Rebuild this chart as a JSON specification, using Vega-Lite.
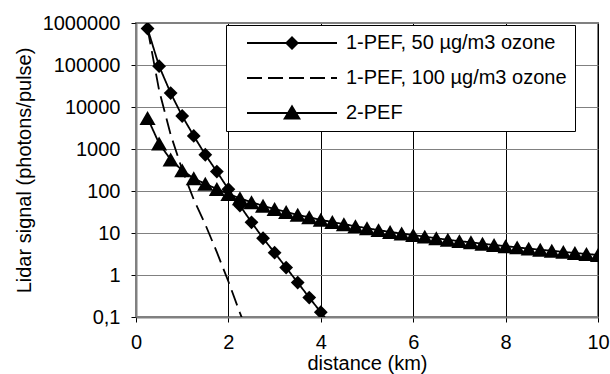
{
  "$schema": "https://vega.github.io/schema/vega-lite/v6.json",
  "width": 462,
  "height": 294,
  "autosize": "none",
  "padding": {"left": 136, "top": 23, "right": 12, "bottom": 57},
  "background": "white",
  "config": {
    "view": {"stroke": "#808080", "strokeWidth": 2},
    "font": "Liberation Sans",
    "axis": {
      "labelFont": "Liberation Sans", "labelFontSize": 20, "labelColor": "black",
      "titleFont": "Liberation Sans", "titleFontSize": 20, "titleFontWeight": "normal", "titleColor": "black",
      "domainColor": "#808080", "domainWidth": 2,
      "tickColor": "black", "tickSize": 5, "tickWidth": 1
    },
    "legend": {
      "labelFont": "Liberation Sans", "labelFontSize": 20, "labelColor": "black", "labelLimit": 0
    }
  },
  "datasets": {
    "signal": [
      {"series": "1-PEF, 50 µg/m3 ozone", "x": 0.25, "y": 740000},
      {"series": "1-PEF, 50 µg/m3 ozone", "x": 0.5, "y": 94000},
      {"series": "1-PEF, 50 µg/m3 ozone", "x": 0.75, "y": 21500},
      {"series": "1-PEF, 50 µg/m3 ozone", "x": 1.0, "y": 6100},
      {"series": "1-PEF, 50 µg/m3 ozone", "x": 1.25, "y": 2050},
      {"series": "1-PEF, 50 µg/m3 ozone", "x": 1.5, "y": 730},
      {"series": "1-PEF, 50 µg/m3 ozone", "x": 1.75, "y": 290},
      {"series": "1-PEF, 50 µg/m3 ozone", "x": 2.0, "y": 110},
      {"series": "1-PEF, 50 µg/m3 ozone", "x": 2.25, "y": 45},
      {"series": "1-PEF, 50 µg/m3 ozone", "x": 2.5, "y": 18},
      {"series": "1-PEF, 50 µg/m3 ozone", "x": 2.75, "y": 7.5},
      {"series": "1-PEF, 50 µg/m3 ozone", "x": 3.0, "y": 3.4},
      {"series": "1-PEF, 50 µg/m3 ozone", "x": 3.25, "y": 1.5},
      {"series": "1-PEF, 50 µg/m3 ozone", "x": 3.5, "y": 0.66},
      {"series": "1-PEF, 50 µg/m3 ozone", "x": 3.75, "y": 0.29},
      {"series": "1-PEF, 50 µg/m3 ozone", "x": 4.0, "y": 0.13},
      {"series": "1-PEF, 50 µg/m3 ozone", "x": 4.25, "y": 0.058},
      {"series": "1-PEF, 100 µg/m3 ozone", "x": 0.25, "y": 740000},
      {"series": "1-PEF, 100 µg/m3 ozone", "x": 0.5, "y": 25000},
      {"series": "1-PEF, 100 µg/m3 ozone", "x": 0.75, "y": 2200},
      {"series": "1-PEF, 100 µg/m3 ozone", "x": 1.0, "y": 320},
      {"series": "1-PEF, 100 µg/m3 ozone", "x": 1.25, "y": 63},
      {"series": "1-PEF, 100 µg/m3 ozone", "x": 1.5, "y": 16},
      {"series": "1-PEF, 100 µg/m3 ozone", "x": 1.75, "y": 3.5},
      {"series": "1-PEF, 100 µg/m3 ozone", "x": 2.0, "y": 0.7},
      {"series": "1-PEF, 100 µg/m3 ozone", "x": 2.25, "y": 0.125},
      {"series": "1-PEF, 100 µg/m3 ozone", "x": 2.5, "y": 0.025},
      {"series": "2-PEF", "x": 0.25, "y": 5500},
      {"series": "2-PEF", "x": 0.5, "y": 1350},
      {"series": "2-PEF", "x": 0.75, "y": 560},
      {"series": "2-PEF", "x": 1.0, "y": 310},
      {"series": "2-PEF", "x": 1.25, "y": 200},
      {"series": "2-PEF", "x": 1.5, "y": 148},
      {"series": "2-PEF", "x": 1.75, "y": 112},
      {"series": "2-PEF", "x": 2.0, "y": 85},
      {"series": "2-PEF", "x": 2.25, "y": 67},
      {"series": "2-PEF", "x": 2.5, "y": 54},
      {"series": "2-PEF", "x": 2.75, "y": 44.5},
      {"series": "2-PEF", "x": 3.0, "y": 37.2},
      {"series": "2-PEF", "x": 3.25, "y": 31.6},
      {"series": "2-PEF", "x": 3.5, "y": 27.1},
      {"series": "2-PEF", "x": 3.75, "y": 23.6},
      {"series": "2-PEF", "x": 4.0, "y": 20.6},
      {"series": "2-PEF", "x": 4.25, "y": 18.2},
      {"series": "2-PEF", "x": 4.5, "y": 16.2},
      {"series": "2-PEF", "x": 4.75, "y": 14.5},
      {"series": "2-PEF", "x": 5.0, "y": 13.0},
      {"series": "2-PEF", "x": 5.25, "y": 11.7},
      {"series": "2-PEF", "x": 5.5, "y": 10.6},
      {"series": "2-PEF", "x": 5.75, "y": 9.7},
      {"series": "2-PEF", "x": 6.0, "y": 8.9},
      {"series": "2-PEF", "x": 6.25, "y": 8.2},
      {"series": "2-PEF", "x": 6.5, "y": 7.5},
      {"series": "2-PEF", "x": 6.75, "y": 6.9},
      {"series": "2-PEF", "x": 7.0, "y": 6.4},
      {"series": "2-PEF", "x": 7.25, "y": 6.0},
      {"series": "2-PEF", "x": 7.5, "y": 5.55},
      {"series": "2-PEF", "x": 7.75, "y": 5.2},
      {"series": "2-PEF", "x": 8.0, "y": 4.85},
      {"series": "2-PEF", "x": 8.25, "y": 4.55},
      {"series": "2-PEF", "x": 8.5, "y": 4.25},
      {"series": "2-PEF", "x": 8.75, "y": 4.0},
      {"series": "2-PEF", "x": 9.0, "y": 3.77},
      {"series": "2-PEF", "x": 9.25, "y": 3.55},
      {"series": "2-PEF", "x": 9.5, "y": 3.35},
      {"series": "2-PEF", "x": 9.75, "y": 3.17},
      {"series": "2-PEF", "x": 10.0, "y": 3.0}
    ]
  },
  "data": {"name": "signal"},
  "encoding": {
    "x": {
      "field": "x", "type": "quantitative",
      "scale": {"domain": [0, 10], "nice": false},
      "axis": {
        "values": [0, 2, 4, 6, 8, 10], "title": "distance (km)",
        "grid": true, "gridColor": "black", "gridWidth": 1, "gridOpacity": 1,
        "labelPadding": 10, "titlePadding": 1, "labelFlush": false
      }
    },
    "y": {
      "field": "y", "type": "quantitative",
      "scale": {"type": "log", "domain": [0.1, 1000000], "nice": false},
      "axis": {
        "values": [0.1, 1, 10, 100, 1000, 10000, 100000, 1000000],
        "labelExpr": "datum.value < 1 ? '0,1' : format(datum.value, 'd')",
        "title": "Lidar signal (photons/pulse)",
        "grid": true, "gridColor": "#808080", "gridWidth": 1, "gridOpacity": 1,
        "labelPadding": 11, "titlePadding": 8, "labelFlush": false
      }
    }
  },
  "layer": [
    {
      "mark": {"type": "line", "clip": true, "color": "black", "strokeWidth": 1.8},
      "encoding": {
        "strokeDash": {
          "field": "series", "type": "nominal",
          "scale": {
            "domain": ["1-PEF, 100 µg/m3 ozone", "1-PEF, 50 µg/m3 ozone", "2-PEF"],
            "range": [[16, 7], [1, 0], [1, 0]]
          },
          "legend": null
        }
      }
    },
    {
      "transform": [{"filter": "datum.x < 0"}],
      "mark": {"type": "point", "filled": true, "color": "black", "fill": "black", "strokeWidth": 0},
      "encoding": {
        "shape": {
          "field": "series", "type": "nominal",
          "scale": {
            "domain": ["1-PEF, 50 µg/m3 ozone", "1-PEF, 100 µg/m3 ozone", "2-PEF"],
            "range": [
              "M-4.5,-0.1H4.5V0.1H-4.5ZM0,-0.7L0.7,0L0,0.7L-0.7,0Z",
              "M-4.5,-0.1H-3V0.1H-4.5ZM-2.4,-0.1H-0.9V0.1H-2.4ZM-0.3,-0.1H1.2V0.1H-0.3ZM1.8,-0.1H3.3V0.1H1.8ZM3.9,-0.1H4.5V0.1H3.9Z",
              "M-4.5,-0.1H4.5V0.1H-4.5ZM0,-0.85L0.9,0.65L-0.9,0.65Z"
            ]
          },
          "legend": {
            "orient": "none", "legendX": 90, "legendY": 2, "title": null,
            "symbolSize": 400, "symbolStrokeWidth": 0, "symbolOffset": 48, "labelOffset": 44,
            "symbolFillColor": "black", "symbolOpacity": 1,
            "rowPadding": 15, "padding": 8, "strokeColor": "black", "fillColor": "white"
          }
        }
      }
    },
    {
      "transform": [{"filter": "datum.series === '1-PEF, 50 µg/m3 ozone'"}],
      "mark": {"type": "point", "clip": true, "shape": "diamond", "filled": true, "color": "black", "opacity": 1, "size": 190}
    },
    {
      "transform": [{"filter": "datum.series === '2-PEF'"}],
      "mark": {"type": "point", "clip": true, "shape": "triangle-up", "filled": true, "color": "black", "opacity": 1, "size": 260}
    }
  ]
}
